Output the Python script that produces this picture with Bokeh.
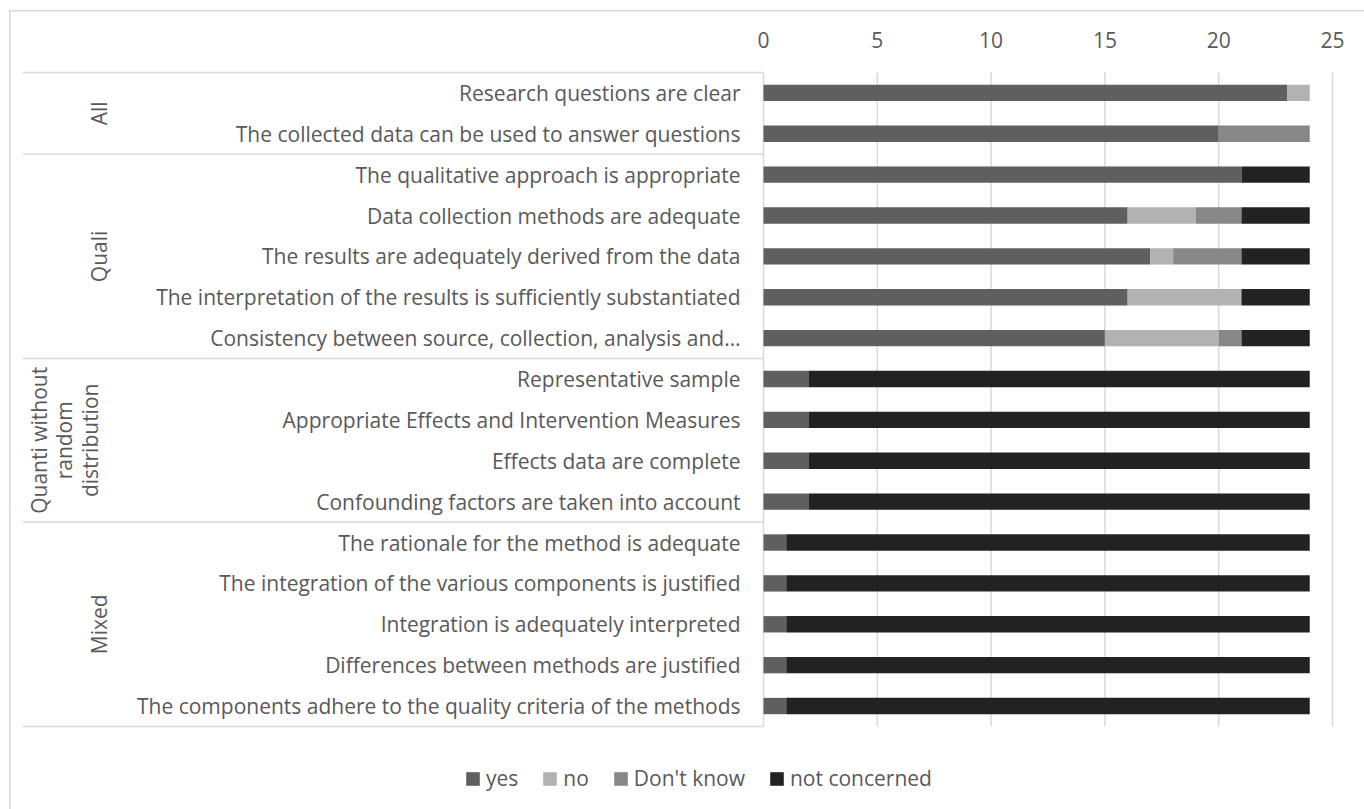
import numpy as np
from bokeh.plotting import figure
from bokeh.models import ColumnDataSource, Range1d, FixedTicker, Legend, LegendItem
from bokeh.core.properties import value
from bokeh.embed import file_html
from bokeh.resources import INLINE

# ---------------- data ----------------
criteria = [
    "Research questions are clear",
    "The collected data can be used to answer questions",
    "The qualitative approach is appropriate",
    "Data collection methods are adequate",
    "The results are adequately derived from the data",
    "The interpretation of the results is sufficiently substantiated",
    "Consistency between source, collection, analysis and\u2026",
    "Representative sample",
    "Appropriate Effects and Intervention Measures",
    "Effects data are complete",
    "Confounding factors are taken into account",
    "The rationale for the method is adequate",
    "The integration of the various components is justified",
    "Integration is adequately interpreted",
    "Differences between methods are justified",
    "The components adhere to the quality criteria of the methods",
]
groups = ["All", "Quali", "Quanti without\nrandom\ndistribution", "Mixed"]
group_sizes = [2, 5, 4, 5]

yes = [23, 20, 21, 16, 17, 16, 15, 2, 2, 2, 2, 1, 1, 1, 1, 1]
no = [1, 0, 0, 3, 1, 5, 5, 0, 0, 0, 0, 0, 0, 0, 0, 0]
dont_know = [0, 4, 0, 2, 3, 0, 1, 0, 0, 0, 0, 0, 0, 0, 0, 0]
not_concerned = [0, 0, 3, 3, 3, 3, 3, 22, 22, 22, 22, 23, 23, 23, 23, 23]

series_names = ["yes", "no", "Don't know", "not concerned"]
x_ticks = [0, 5, 10, 15, 20, 25]

# ---------------- styles ----------------
colors = ["#5f5f5f", "#b2b2b2", "#878787", "#222222"]
text_color = "#595959"
grid_color = "#d9d9d9"
FONT = "Open Sans"
FS = "21px"

n = len(criteria)
rows = list(range(n))

src = ColumnDataSource(dict(y=rows, yes=yes, no=no, dk=dont_know, nc=not_concerned,
                            label=criteria))

# layout constants (px, page coordinates)
W, H = 1364, 809
frame_left, zero_x, x25, frame_right = 22, 763, 1332, 1334
frame_top, frame_bottom = 70, 805
row0_y, row_px = 92.4, 40.875
ppu = (x25 - zero_x) / 25.0
x_start = -(zero_x - frame_left) / ppu
x_end = (frame_right - zero_x) / ppu
y_top = -(row0_y - frame_top) / row_px
y_bottom = (frame_bottom - row0_y) / row_px

p = figure(
    output_backend="svg", toolbar_location=None,
    frame_width=frame_right - frame_left, frame_height=frame_bottom - frame_top,
    min_border_left=frame_left, min_border_right=W - frame_right,
    min_border_top=frame_top, min_border_bottom=H - frame_bottom,
    x_range=Range1d(x_start, x_end),
    y_range=Range1d(y_bottom, y_top),
    x_axis_location="above",
)
p.outline_line_color = None
p.background_fill_color = "white"
p.border_fill_color = None
p.styles = {
    "background": ("linear-gradient(#d9d9d9,#d9d9d9) 9px 10px / 1.5px 100% no-repeat, "
                   "linear-gradient(#d9d9d9,#d9d9d9) 9px 10px / 100% 1.5px no-repeat, white"),
}

# axes
p.yaxis.visible = False
xa = p.xaxis[0]
xa.ticker = FixedTicker(ticks=x_ticks)
xa.axis_line_color = None
xa.major_tick_line_color = None
xa.minor_tick_line_color = None
xa.major_label_text_font = FONT
xa.major_label_text_font_size = FS
xa.major_label_text_color = text_color
xa.major_label_standoff = 17

p.ygrid.visible = False
p.xgrid.visible = False

# table extents
bounds = [-0.5] + list(np.cumsum(group_sizes) - 0.5)

# vertical grid lines at the value ticks (limited to the table height)
p.segment(x0=x_ticks, x1=x_ticks, y0=bounds[0], y1=bounds[-1],
          line_color=grid_color, line_width=1.5)

# stacked bars
rs = p.hbar_stack(["yes", "no", "dk", "nc"], y="y", height=0.4, color=colors,
                  line_color=None, source=src)

# item labels
p.text(x=0, y="y", text="label", source=src, x_offset=-23, text_align="right",
       text_baseline="middle", text_font=value(FONT), text_font_size=FS,
       text_color=text_color)

# group boundaries and labels
p.segment(x0=x_start, x1=0, y0=bounds, y1=bounds, line_color=grid_color, line_width=1.5)
centers = [(bounds[i] + bounds[i + 1]) / 2 for i in range(len(groups))]
g_offsets = [-665, -665, -699, -665]
gsrc = ColumnDataSource(dict(y=centers, text=groups, xo=g_offsets))
p.text(x=0, y="y", text="text", x_offset="xo", source=gsrc, angle=np.pi / 2,
       text_align="center", text_baseline="middle", text_font=value(FONT),
       text_font_size=FS, text_color=text_color, text_line_height=0.92)

legend = Legend(items=[LegendItem(label=nm, renderers=[r]) for nm, r in zip(series_names, rs)],
                orientation="horizontal", location=(442, 13),
                label_text_font=FONT, label_text_font_size=FS, label_text_color=text_color,
                glyph_width=17, glyph_height=17, label_standoff=5, spacing=23,
                padding=0, margin=0,
                border_line_color=None, background_fill_alpha=0)
p.add_layout(legend, "center")

open("out.html", "w").write(file_html(p, INLINE))
